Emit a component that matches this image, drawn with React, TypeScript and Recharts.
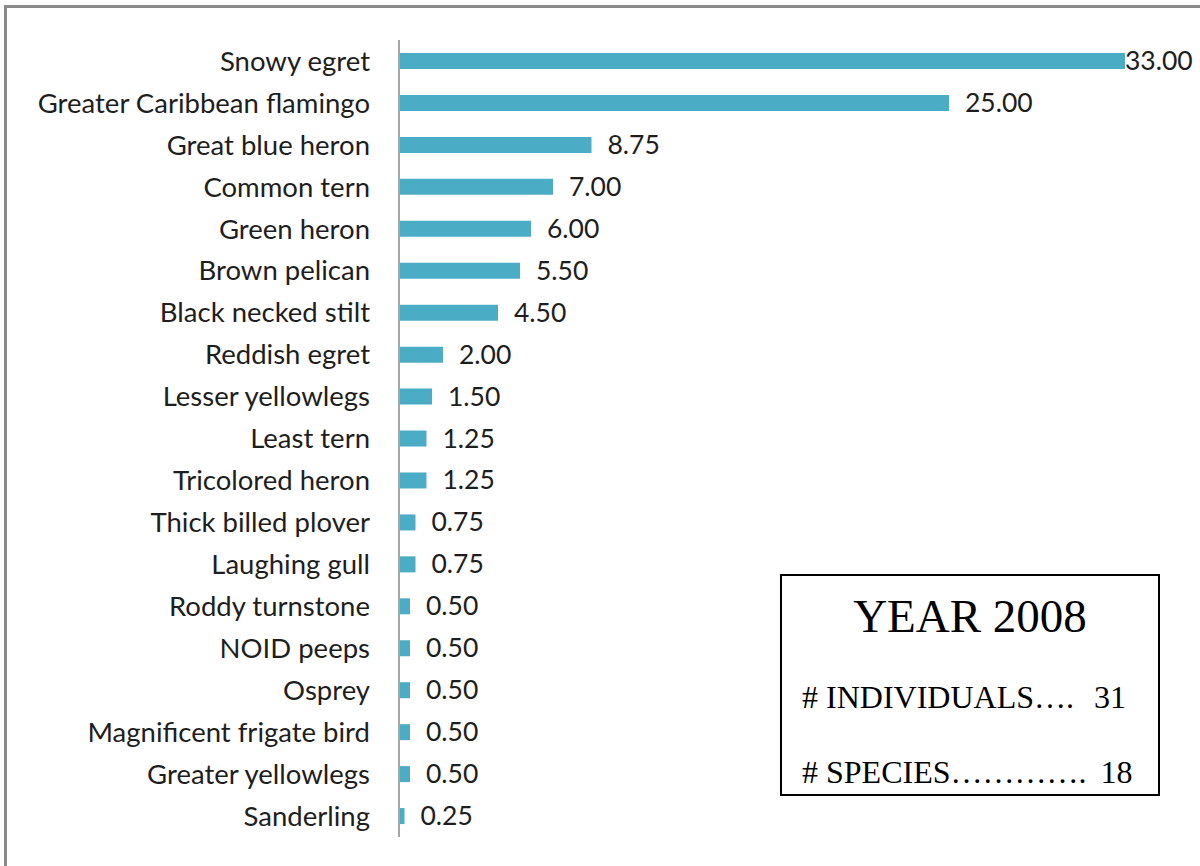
import { BarChart, Bar, XAxis, YAxis, LabelList } from "recharts";

const species = [
  "Snowy egret",
  "Greater Caribbean flamingo",
  "Great blue heron",
  "Common tern",
  "Green heron",
  "Brown pelican",
  "Black necked stilt",
  "Reddish egret",
  "Lesser yellowlegs",
  "Least tern",
  "Tricolored heron",
  "Thick billed plover",
  "Laughing gull",
  "Roddy turnstone",
  "NOID peeps",
  "Osprey",
  "Magnificent frigate bird",
  "Greater yellowlegs",
  "Sanderling",
];

const counts = [33, 25, 8.75, 7, 6, 5.5, 4.5, 2, 1.5, 1.25, 1.25, 0.75, 0.75, 0.5, 0.5, 0.5, 0.5, 0.5, 0.25];

const summaryTitle = "YEAR 2008";
const summaryRows = [
  { label: "# INDIVIDUALS….", value: "31", gap: 20 },
  { label: "# SPECIES………….", value: "18", gap: 14 },
];

const BAR_COLOR = "#4bacc6";
const FONT = "Lato, 'Open Sans', sans-serif";
const CHART_W = 1200;

const data = species.map((name, i) => ({ name, count: counts[i] }));

// value label sits right of the bar, pulled back in if it would run off the chart
const ValueLabel = (props: any) => {
  const { x, y, width, height, value } = props;
  const end = Number(x) + Number(width);
  let lx = end + 16;
  if (lx + 70 > CHART_W) lx = end;
  return (
    <text x={lx} y={Number(y) + Number(height) / 2} dy={9} fontSize={26.5} fontFamily={FONT} fill="#1e1e1e" textAnchor="start">
      {Number(value).toFixed(2)}
    </text>
  );
};

export default function App() {
  return (
    <div style={{ position: "absolute", left: 0, top: 0, width: 1200, height: 866, overflow: "hidden", background: "#fff" }}>
      <div
        style={{
          position: "absolute",
          left: 4,
          top: 5,
          width: 1220,
          height: 900,
          border: "3px solid #8a8a8a",
          boxSizing: "border-box",
        }}
      />
      <div style={{ position: "absolute", left: 0, top: 0 }}>
        <BarChart width={1200} height={866} layout="vertical" data={data} margin={{ top: 40, right: 75, bottom: 29, left: 0 }}>
          <XAxis type="number" domain={[0, 33]} hide />
          <YAxis
            type="category"
            dataKey="name"
            width={399}
            interval={0}
            tickLine={false}
            tickSize={0}
            tickMargin={29}
            axisLine={{ stroke: "#a6a6a6", strokeWidth: 2 }}
            tick={{ fontSize: 27.5, fontFamily: FONT, fill: "#1e1e1e" }}
          />
          <Bar dataKey="count" fill={BAR_COLOR} barSize={16} isAnimationActive={false}>
            <LabelList dataKey="count" content={ValueLabel} />
          </Bar>
        </BarChart>
      </div>
      <div
        style={{
          position: "absolute",
          left: 780,
          top: 574,
          width: 380,
          height: 222,
          border: "2px solid #000",
          boxSizing: "border-box",
          fontFamily: "'Liberation Serif', 'Times New Roman', serif",
          color: "#000",
        }}
      >
        <div style={{ position: "absolute", left: 0, right: 0, top: 10, textAlign: "center", fontSize: 47, lineHeight: "60px" }}>
          {summaryTitle}
        </div>
        {summaryRows.map((r, i) => (
          <div key={r.label} style={{ position: "absolute", left: 20, top: 101 + i * 75, fontSize: 32, lineHeight: "40px", whiteSpace: "pre" }}>
            {r.label}
            <span style={{ marginLeft: r.gap }}>{r.value}</span>
          </div>
        ))}
      </div>
    </div>
  );
}
